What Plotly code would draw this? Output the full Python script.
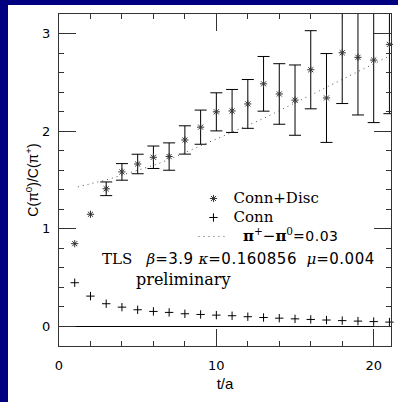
import plotly.graph_objects as go

# ---- data ----
t = list(range(1, 22))
conn_disc = [0.848, 1.149, 1.41, 1.583, 1.664, 1.733, 1.74, 1.91, 2.041, 2.198, 2.207,
             2.279, 2.485, 2.381, 2.318, 2.629, 2.34, 2.803, 2.756, 2.728, 2.889]
# first two points show no visible error bar
conn_disc_err = [None, None, 0.07, 0.085, 0.10, 0.115, 0.14, 0.145, 0.175, 0.195, 0.22,
                 0.25, 0.28, 0.31, 0.36, 0.40, 0.455, 0.52, 0.59, 0.64, 0.71]
conn = [0.448, 0.311, 0.233, 0.198, 0.171, 0.154, 0.144, 0.13, 0.123, 0.116, 0.11,
        0.10, 0.092, 0.085, 0.078, 0.072, 0.066, 0.06, 0.055, 0.05, 0.045]
fit_t = [1.2, 2, 3, 4, 5, 6, 7, 8, 9, 10, 11, 12, 13, 14, 15, 16, 17, 18, 19, 20, 21]
fit_y = [1.43, 1.46, 1.50, 1.55, 1.60, 1.65, 1.71, 1.78, 1.85, 1.92, 1.99, 2.06,
         2.13, 2.21, 2.29, 2.37, 2.45, 2.53, 2.61, 2.69, 2.77]

x_ticks = [0, 10, 20]
y_ticks = [0, 1, 2, 3]

SERIF = "DejaVu Serif"
SANS = "DejaVu Sans"
SANS2 = "Liberation Sans"

# missing errors -> "NaN" so plotly.js skips the bar (null would become 0 and draw caps)
err_plot = ["NaN" if e is None else e for e in conn_disc_err]


def sans(s, size=15):
    return (f'<span style="font-family:{SANS};font-size:{size}px;'
            f'letter-spacing:0.5px">{s}</span>')


def big(s, size=15):
    return f'<span style="font-size:{size}px">{s}</span>'


fig = go.Figure()

fig.add_trace(go.Scatter(
    x=t, y=conn_disc, mode="markers", name=big("Conn+Disc"),
    marker=dict(symbol="asterisk-open", size=6, color="#333",
                line=dict(color="#333", width=1)),
    error_y=dict(type="data", array=err_plot, visible=True,
                 color="black", thickness=1, width=6),
    cliponaxis=False,
))
fig.add_trace(go.Scatter(
    x=t, y=conn, mode="markers", name=big("Conn"),
    marker=dict(symbol="cross-thin-open", size=6, color="black",
                line=dict(color="black", width=1)),
    cliponaxis=False,
))
fig.add_trace(go.Scatter(
    x=fit_t, y=fit_y, mode="lines",
    name=big("\u00a0\u00a0<b>π</b><sup>+</sup>−<b>π</b><sup>0</sup>") + sans("=0.03", 14),
    line=dict(color="#555", width=1, dash="1px,4px"),
))

axis_common = dict(
    showline=True, linecolor="#333", linewidth=1, mirror="ticks",
    ticks="inside", ticklen=17, tickwidth=1, tickcolor="#333",
    showgrid=False, zeroline=False,
    tickfont=dict(family=SANS, size=13, color="black"),
)

fig.update_xaxes(
    **axis_common, range=[0, 21.1], tickvals=x_ticks,
    minor=dict(dtick=2, tick0=0, ticks="inside", ticklen=5, tickcolor="#333", showgrid=False),
    ticklabelstandoff=7,
    title=dict(text="t/a", font=dict(family=SANS2, size=15, color="black"), standoff=6),
)
fig.update_yaxes(
    **axis_common, range=[-0.2, 3.2], tickvals=y_ticks,
    minor=dict(dtick=0.2, tick0=0, ticks="inside", ticklen=5, tickcolor="#333", showgrid=False),
    ticklabelstandoff=5,
    title=dict(text="C(π<sup>0</sup>)/C(π<sup>+</sup>)",
               font=dict(family=SANS2, size=14, color="black"), standoff=0),
)

# horizontal line at zero
fig.update_yaxes(zeroline=True, zerolinecolor="black", zerolinewidth=1)

fig.add_shape(type="rect", xref="paper", yref="paper",
              x0=-0.1536, x1=1.03, y0=-0.18, y1=1.0271,
              fillcolor="white", line=dict(width=0), layer="below")

fig.add_annotation(
    xref="paper", yref="paper", x=0.124, y=0.263, xanchor="left", yanchor="middle",
    showarrow=False, font=dict(family=SERIF, size=15, color="black"),
    text="TLS\u00a0\u00a0\u00a0<i>β</i>" + sans("=3.9") + " <i>κ</i>" + sans("=0.160856")
         + "\u00a0 <i>μ</i>" + sans("=0.004"),
)
fig.add_annotation(
    xref="paper", yref="paper", x=0.373, y=0.201, xanchor="center", yanchor="middle",
    showarrow=False, font=dict(family=SERIF, size=16, color="black"),
    text="preliminary",
)

fig.update_layout(
    width=398, height=402,
    margin=dict(l=59, r=7, t=14, b=56),
    paper_bgcolor="#000080", plot_bgcolor="white",
    showlegend=True,
    legend=dict(x=0.405, y=0.488, xanchor="left", yanchor="top",
                bgcolor="rgba(0,0,0,0)", borderwidth=0,
                font=dict(family=SERIF, size=12, color="black"),
                itemwidth=30, tracegroupgap=0),
)

fig.write_html("out.html")
